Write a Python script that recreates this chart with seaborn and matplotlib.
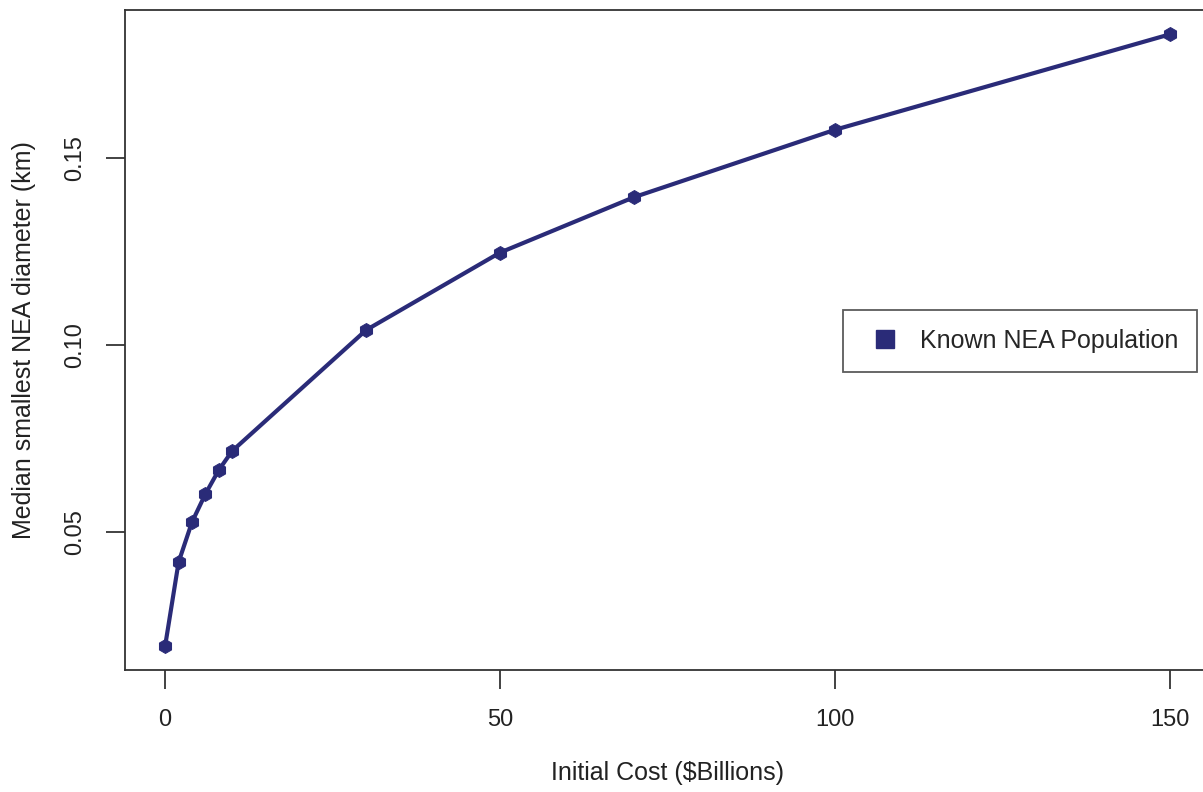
import matplotlib
matplotlib.use("Agg")
import matplotlib.pyplot as plt
import seaborn as sns
import pandas as pd
from matplotlib.lines import Line2D

# data
cost = [0, 2, 4, 6, 8, 10, 30, 50, 70, 100, 150]
diameter = [0.0197, 0.042, 0.0527, 0.0602, 0.0666, 0.0717, 0.104, 0.1247, 0.1395, 0.1575, 0.183]
series_name = "Known NEA Population"

df = pd.DataFrame({"cost": cost, "diameter": diameter})

sns.set_style("white")
plt.rcParams["font.family"] = ["Liberation Sans", "DejaVu Sans"]

navy = "#2a2b78"

fig = plt.figure(figsize=(12.03, 7.92), dpi=100)
ax = fig.add_axes([125 / 1203, 122 / 792, 1085 / 1203, 660 / 792])

sns.lineplot(data=df, x="cost", y="diameter", ax=ax, color=navy, linewidth=3,
             marker="h", markersize=10, markeredgecolor=navy, markerfacecolor=navy)

ax.set_xlim(-6, 156)
ax.set_ylim(0.0132, 0.1895)
ax.set_xticks([0, 50, 100, 150])
ax.set_yticks([0.05, 0.10, 0.15])
ax.set_yticklabels(["0.05", "0.10", "0.15"], rotation=90, va="center")

ax.tick_params(axis="both", direction="out", length=14, width=1.2, colors="#222222",
               labelsize=17, pad=14, bottom=True, left=True)
for s in ax.spines.values():
    s.set_color("#333333")
    s.set_linewidth(1.3)

ax.set_xlabel("Initial Cost ($Billions)", fontsize=18, labelpad=22, color="#222222")
ax.set_ylabel("Median smallest NEA diameter (km)", fontsize=18, labelpad=20, color="#222222")

handle = Line2D([], [], linestyle="none", marker="s", markersize=13,
                markerfacecolor=navy, markeredgecolor=navy)
leg = ax.legend([handle], [series_name], loc="upper left",
                bbox_to_anchor=(0.662, 0.545), fontsize=18, frameon=True,
                fancybox=False, borderpad=0.75, handletextpad=0.5,
                handlelength=1.8, borderaxespad=0)
leg.get_frame().set_edgecolor("#333333")
leg.get_frame().set_linewidth(1.3)

fig.savefig("out.png", dpi=100)
